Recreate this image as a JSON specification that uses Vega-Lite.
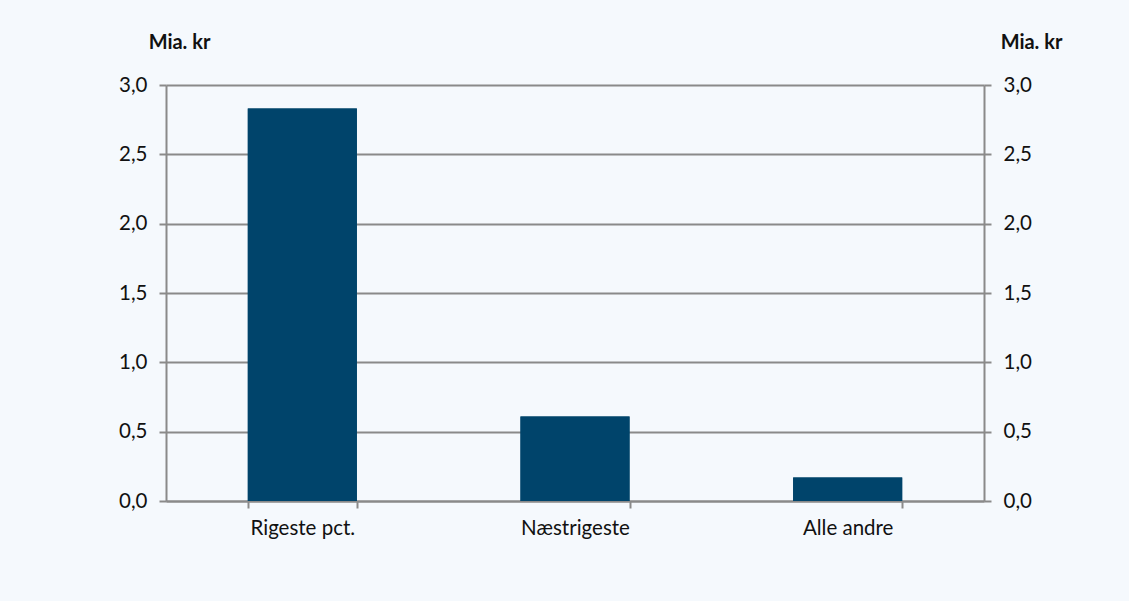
{
  "$schema": "https://vega.github.io/schema/vega-lite/v6.json",
  "width": 818,
  "height": 416,
  "autosize": {"type": "none"},
  "padding": {"left": 166, "top": 85, "right": 145, "bottom": 100},
  "background": "#f5f9fd",
  "config": {
    "locale": {"number": {"decimal": ",", "thousands": ".", "grouping": [3], "currency": ["", " kr"]}},
    "view": {"stroke": null},
    "font": "Lato"
  },
  "data": {"values": [
    {"gruppe": "Rigeste pct.", "v": 2.83},
    {"gruppe": "Næstrigeste", "v": 0.61},
    {"gruppe": "Alle andre", "v": 0.17}
  ]},
  "encoding": {
    "x": {
      "field": "gruppe", "type": "nominal", "sort": null,
      "scale": {"paddingInner": 0.6, "paddingOuter": 0.3},
      "axis": {
        "title": null, "labelAngle": 0, "tickBand": "extent",
        "domainColor": "#8a8a8a", "tickColor": "#8a8a8a", "domainWidth": 2, "tickWidth": 2,
        "tickSize": 7, "labelFontSize": 20.5, "labelColor": "#111111", "labelPadding": 10
      }
    }
  },
  "layer": [
    {
      "mark": {"type": "bar", "color": "#00446b"},
      "encoding": {
        "y": {
          "field": "v", "type": "quantitative", "scale": {"domain": [0, 3]},
          "axis": {
            "orient": "left", "values": [0, 0.5, 1, 1.5, 2, 2.5, 3], "format": ".1f",
            "grid": true, "gridColor": "#8a8a8a", "gridWidth": 2,
            "domainColor": "#8a8a8a", "tickColor": "#8a8a8a", "domainWidth": 2, "tickWidth": 2,
            "tickSize": 7, "labelFontSize": 20.5, "labelColor": "#111111", "labelPadding": 12,
            "title": "Mia. kr", "titleAngle": 0, "titleAlign": "center", "titleBaseline": "alphabetic",
            "titleX": 13, "titleY": -37, "titleFontSize": 20, "titleFontWeight": "bold", "titleColor": "#111111"
          }
        }
      }
    },
    {
      "mark": {"type": "bar", "color": "#00446b"},
      "encoding": {
        "y": {
          "field": "v", "type": "quantitative", "scale": {"domain": [0, 3]},
          "axis": {
            "orient": "right", "values": [0, 0.5, 1, 1.5, 2, 2.5, 3], "format": ".1f",
            "grid": false,
            "domainColor": "#8a8a8a", "tickColor": "#8a8a8a", "domainWidth": 2, "tickWidth": 2,
            "tickSize": 7, "labelFontSize": 20.5, "labelColor": "#111111", "labelPadding": 12,
            "title": "Mia. kr", "titleAngle": 0, "titleAlign": "center", "titleBaseline": "alphabetic",
            "titleX": 47, "titleY": -37, "titleFontSize": 20, "titleFontWeight": "bold", "titleColor": "#111111"
          }
        }
      }
    }
  ],
  "resolve": {"axis": {"y": "independent"}}
}
